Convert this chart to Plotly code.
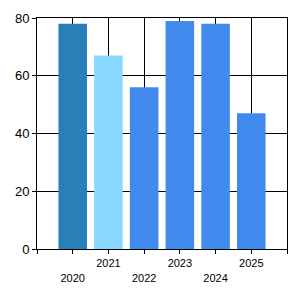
import plotly.graph_objects as go

years = ["2020", "2021", "2022", "2023", "2024", "2025"]
values = [78, 67, 56, 79, 78, 47]
colors = ["#2980B9", "#88D8FF", "#428BEE", "#428BEE", "#428BEE", "#428BEE"]

xpos = list(range(len(years)))
tickvals = [-1] + xpos + [len(years)]
ticktext = [""] + [("<br>" + y if i % 2 == 0 else y) for i, y in enumerate(years)] + [""]

fig = go.Figure()
fig.add_trace(go.Bar(x=xpos, y=values, marker=dict(color=colors, line=dict(width=0)),
                     width=0.8, hoverinfo="skip"))

fig.update_layout(
    width=300, height=300,
    margin=dict(l=37, r=13, t=18, b=51),
    paper_bgcolor="white", plot_bgcolor="white",
    showlegend=False,
    font=dict(family="Liberation Sans, Arial, sans-serif", color="black"),
)
fig.update_xaxes(
    range=[-1, len(years)], tickmode="array", tickvals=tickvals, ticktext=ticktext,
    showgrid=True, gridcolor="black", gridwidth=1,
    showline=True, linecolor="black", linewidth=1, mirror=True,
    ticks="outside", ticklen=4, tickcolor="black",
    tickfont=dict(size=11, color="black"), zeroline=False, tickangle=0,
)
fig.update_yaxes(
    range=[0, 80], tickvals=[0, 20, 40, 60, 80],
    showgrid=True, gridcolor="black", gridwidth=1,
    showline=True, linecolor="black", linewidth=1, mirror=True,
    ticks="outside", ticklen=4, tickcolor="black",
    tickfont=dict(size=13, color="black"), zeroline=False,
)

fig.write_html("out.html", config={"displayModeBar": False})
